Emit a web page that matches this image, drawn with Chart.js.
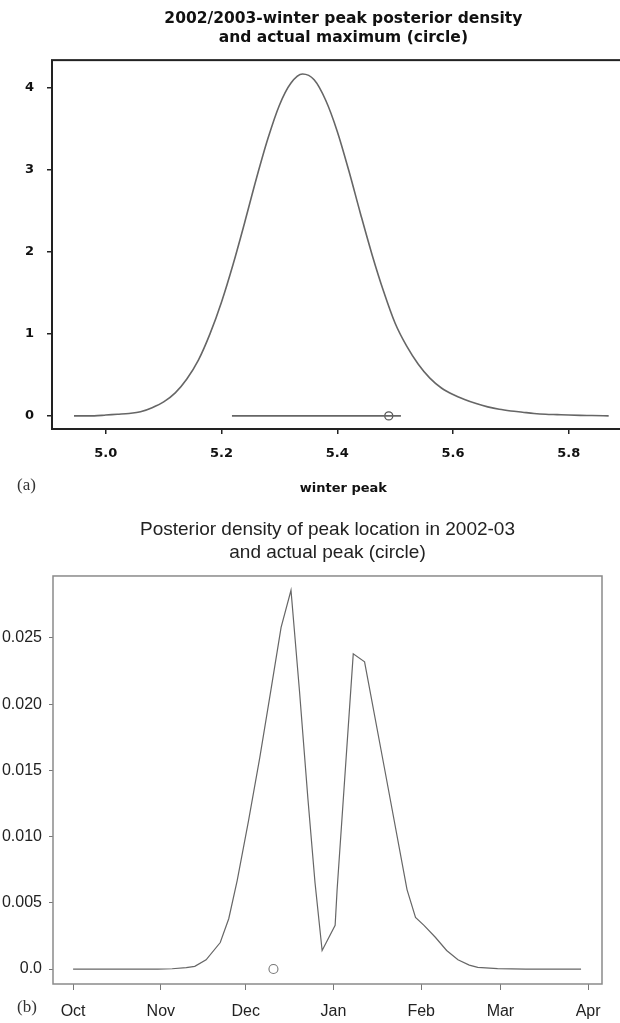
<!DOCTYPE html>
<html>
<head>
<meta charset="utf-8">
<script src="https://cdn.jsdelivr.net/npm/chart.js@4.4.0/dist/chart.umd.min.js"></script>
<style>
	html, body { margin: 0; padding: 0; background: #fff; }
	body { position: relative; width: 620px; height: 1023px; overflow: hidden; }
	canvas { position: absolute; }
	#chartA { left: 0; top: 0; }
	#chartB { left: 0; top: 500px; }
	.panel-tag { position: absolute; font-family: 'Liberation Serif', 'DejaVu Serif', serif; font-size: 17px; color: #333; }
</style>
</head>
<body>
<canvas id="chartA" width="640" height="500"></canvas>
<canvas id="chartB" width="620" height="523"></canvas>
<div class="panel-tag" style="left:17px; top:475px;">(a)</div>
<div class="panel-tag" style="left:17px; top:997px;">(b)</div>
<script>
// (a) winter peak posterior density
const winterPeakX = [4.945, 4.96, 4.98, 5.00, 5.02, 5.04, 5.06, 5.08, 5.10, 5.12, 5.14, 5.16, 5.18,
	5.20, 5.22, 5.24, 5.26, 5.28, 5.30, 5.32, 5.34, 5.36, 5.38, 5.40, 5.42, 5.44, 5.46, 5.48,
	5.50, 5.52, 5.54, 5.56, 5.58, 5.60, 5.62, 5.64, 5.66, 5.68, 5.70, 5.72, 5.74, 5.76, 5.78,
	5.80, 5.82, 5.84, 5.869];
const winterPeakDensity = [0.00, 0.00, 0.00, 0.01, 0.02, 0.03, 0.05, 0.10, 0.17, 0.28, 0.45, 0.68, 1.00,
	1.39, 1.85, 2.36, 2.89, 3.38, 3.79, 4.06, 4.17, 4.10, 3.85, 3.47, 2.99, 2.47, 1.97, 1.52,
	1.13, 0.85, 0.63, 0.46, 0.34, 0.26, 0.20, 0.15, 0.11, 0.08, 0.06, 0.045, 0.03, 0.02, 0.015,
	0.01, 0.006, 0.004, 0.00];
const winterPeakInterval = [5.218, 5.510];
const winterActualMax = 5.489;
const xTicksA = [5.0, 5.2, 5.4, 5.6, 5.8];
const yTicksA = [0, 1, 2, 3, 4];

// (b) peak location, days counted from 1 October 2002
const peakDay = [0, 10, 20, 30, 35, 40, 43, 47, 52, 55, 58, 62, 66, 70, 73.5, 77, 80, 83, 85.5,
	88, 92.6, 93.3, 99, 103, 110, 118, 121, 124, 128, 132, 136, 140, 143, 150, 160, 170, 179.5];
const peakDensity = [0, 0, 0, 0, 0.00002, 0.0001, 0.0002, 0.0007, 0.002, 0.0038, 0.0067, 0.0112,
	0.0160, 0.0212, 0.0258, 0.0286, 0.0210, 0.0128, 0.0065, 0.0014, 0.0033, 0.0060, 0.0238,
	0.0232, 0.0152, 0.0060, 0.0039, 0.0033, 0.0024, 0.0014, 0.0007, 0.0003, 0.00012, 0.00003,
	0, 0, 0];
const actualPeakDay = 70.8;
const monthStarts = [0, 31, 61, 92, 123, 151, 182];
const monthLabels = ['Oct', 'Nov', 'Dec', 'Jan', 'Feb', 'Mar', 'Apr'];
const yTicksB = [0, 0.005, 0.010, 0.015, 0.020, 0.025];

const framePlugin = {
	id: 'frame',
	afterDraw(chart, args, opts) {
		const a = chart.chartArea;
		const ctx = chart.ctx;
		ctx.save();
		ctx.strokeStyle = opts.color;
		ctx.lineWidth = opts.width;
		ctx.strokeRect(a.left, a.top, a.right - a.left, a.bottom - a.top);
		ctx.restore();
	}
};

document.addEventListener('DOMContentLoaded', function() {
	Chart.defaults.animation = false;
	initWinterChart();
	initLocationChart();
});

function toPoints(xs, ys) {
	let pts = [];
	for(let i = 0; i < xs.length; i++) {
		pts.push({x: xs[i], y: ys[i]});
	}
	return pts;
}

function initWinterChart() {
	const ctx = document.getElementById('chartA').getContext('2d');
	const bold = {family: "'DejaVu Sans', sans-serif", weight: 'bold', size: 13};

	new Chart(ctx, {
		type: 'line',
		data: {
			datasets: [
				{
					data: toPoints(winterPeakX, winterPeakDensity),
					borderColor: '#666',
					borderWidth: 1.6,
					pointRadius: 0,
					cubicInterpolationMode: 'monotone',
				},
				{
					data: toPoints(winterPeakInterval, [0, 0]),
					borderColor: '#666',
					borderWidth: 1.6,
					pointRadius: 0,
				},
				{
					data: [{x: winterActualMax, y: 0}],
					showLine: false,
					pointRadius: 4,
					pointBorderWidth: 1.3,
					pointBorderColor: '#555',
					pointBackgroundColor: 'rgba(0,0,0,0)',
				}
			]
		},
		options: {
			responsive: false,
			layout: {padding: 0},
			plugins: {
				legend: {display: false},
				tooltip: {enabled: false},
				title: {
					display: true,
					fullSize: false,
					text: ['2002/2003-winter peak posterior density', 'and actual maximum (circle)'],
					color: '#111',
					font: {family: "'DejaVu Sans', sans-serif", weight: 'bold', size: 15.5, lineHeight: 1.23},
					padding: {top: 9, bottom: 13},
				},
				frame: {color: '#222', width: 2},
			},
			scales: {
				x: {
					type: 'linear',
					min: 4.907,
					max: 5.914,
					afterBuildTicks: function(scale) {
						scale.ticks = xTicksA.map(v => ({value: v}));
					},
					afterFit: function(scale) { scale.height = 71; },
					border: {display: false},
					grid: {drawOnChartArea: false, drawTicks: true, tickLength: 5, color: '#222', lineWidth: 1.5},
					ticks: {
						color: '#111',
						font: bold,
						padding: 12,
						maxRotation: 0,
						callback: v => v.toFixed(1),
					},
					title: {
						display: true,
						text: 'winter peak',
						color: '#111',
						font: bold,
						padding: {top: 0, bottom: 4},
					},
				},
				y: {
					min: -0.16,
					max: 4.34,
					afterBuildTicks: function(scale) {
						scale.ticks = yTicksA.map(v => ({value: v}));
					},
					afterFit: function(scale) { scale.width = 52; },
					border: {display: false},
					grid: {drawOnChartArea: false, drawTicks: true, tickLength: 5, color: '#222', lineWidth: 1.5},
					ticks: {
						color: '#111',
						font: bold,
						padding: 13,
						callback: v => String(v),
					},
				},
			},
		},
		plugins: [framePlugin],
	});
}

function initLocationChart() {
	const ctx = document.getElementById('chartB').getContext('2d');
	const plain = {family: "'Liberation Sans', Arial, sans-serif", size: 16};

	new Chart(ctx, {
		type: 'line',
		data: {
			datasets: [
				{
					data: toPoints(peakDay, peakDensity),
					borderColor: '#666',
					borderWidth: 1.2,
					pointRadius: 0,
					tension: 0,
				},
				{
					data: [{x: actualPeakDay, y: 0}],
					showLine: false,
					pointRadius: 4.5,
					pointBorderWidth: 1.1,
					pointBorderColor: '#777',
					pointBackgroundColor: 'rgba(0,0,0,0)',
				}
			]
		},
		options: {
			responsive: false,
			layout: {padding: {left: 0, right: 18, top: 0, bottom: 0}},
			plugins: {
				legend: {display: false},
				tooltip: {enabled: false},
				title: {
					display: true,
					fullSize: false,
					text: ['Posterior density of peak location in 2002-03', 'and actual peak (circle)'],
					color: '#222',
					font: {family: "'Liberation Sans', Arial, sans-serif", weight: 'normal', size: 19, lineHeight: 1.21},
					padding: {top: 18, bottom: 12},
				},
				frame: {color: '#8a8a8a', width: 1.5},
			},
			scales: {
				x: {
					type: 'linear',
					min: -7.1,
					max: 186.9,
					afterBuildTicks: function(scale) {
						scale.ticks = monthStarts.map(v => ({value: v}));
					},
					afterFit: function(scale) { scale.height = 39; },
					border: {display: false},
					grid: {drawOnChartArea: false, drawTicks: true, tickLength: 6, color: '#777', lineWidth: 1},
					ticks: {
						color: '#222',
						font: plain,
						padding: 12,
						maxRotation: 0,
						autoSkip: false,
						callback: v => monthLabels[monthStarts.indexOf(v)],
					},
				},
				y: {
					min: -0.00113,
					max: 0.02968,
					afterBuildTicks: function(scale) {
						scale.ticks = yTicksB.map(v => ({value: v}));
					},
					afterFit: function(scale) { scale.width = 53; },
					border: {display: false},
					grid: {drawOnChartArea: false, drawTicks: true, tickLength: 4, color: '#777', lineWidth: 1},
					ticks: {
						color: '#222',
						font: plain,
						padding: 7,
						callback: v => (v === 0 ? '0.0' : v.toFixed(3)),
					},
				},
			},
		},
		plugins: [framePlugin],
	});
}
</script>
</body>
</html>
